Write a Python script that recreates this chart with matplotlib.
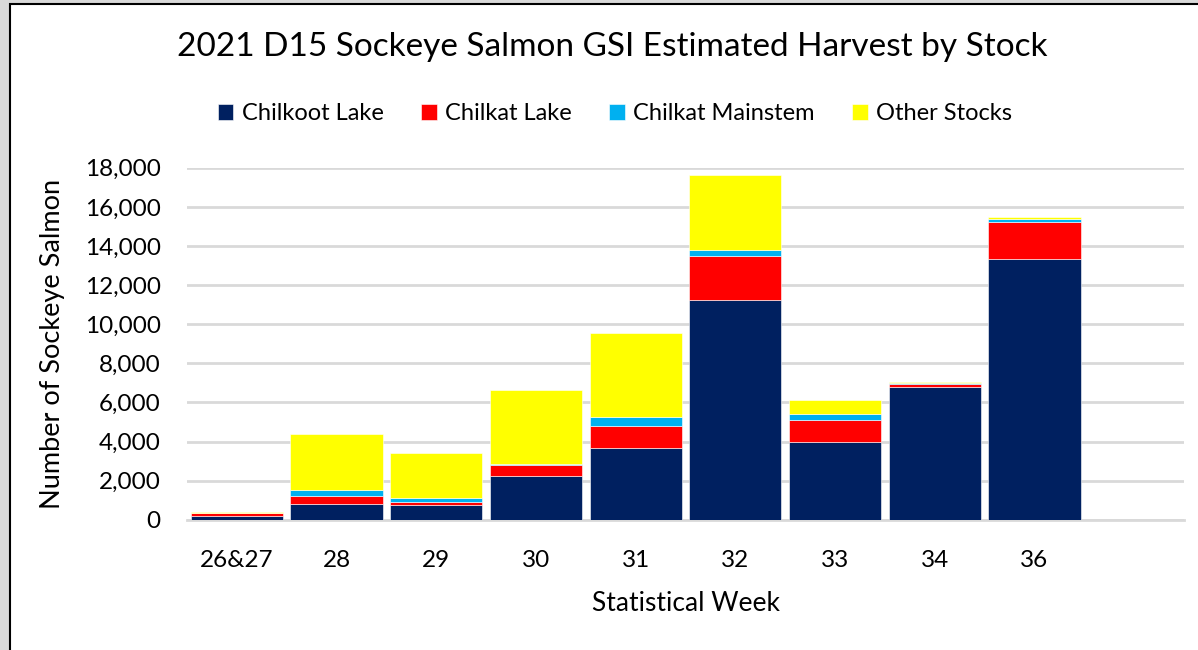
import numpy as np
import matplotlib.pyplot as plt
from matplotlib.patches import Rectangle

plt.rcParams['font.family'] = ['Lato', 'DejaVu Sans']

weeks = ['26&27', '28', '29', '30', '31', '32', '33', '34', '36', '']
chilkoot = [190, 800, 750, 2250, 3680, 11250, 3990, 6790, 13340, 0]
chilkat_lake = [150, 430, 170, 560, 1130, 2240, 1125, 170, 1890, 0]
chilkat_main = [10, 270, 175, 40, 430, 320, 285, 20, 140, 0]
other = [20, 2900, 2315, 3780, 4310, 3820, 710, 50, 110, 0]

series = [
    ('Chilkoot Lake', chilkoot, '#002060'),
    ('Chilkat Lake', chilkat_lake, '#FF0000'),
    ('Chilkat Mainstem', chilkat_main, '#00B0F0'),
    ('Other Stocks', other, '#FFFF00'),
]

fig = plt.figure(figsize=(11.98, 6.5), dpi=100)
# grey surround and bordered chart area
fig.add_artist(Rectangle((0, 0), 1, 1, transform=fig.transFigure,
                         facecolor='#d9d9d9', edgecolor='none', zorder=-10))
fig.add_artist(Rectangle((10 / 1198, -0.1), 1.1, 646 / 650 + 0.1,
                         transform=fig.transFigure, facecolor='white',
                         edgecolor='black', linewidth=1.5, zorder=-9))

ax = fig.add_axes([187 / 1198, 1 - 519.7 / 650, (1184 - 187) / 1198, (519.7 - 167.8) / 650])
ax.set_facecolor('none')

x = np.arange(len(weeks))
bottom = np.zeros(len(weeks))
for name, vals, col in series:
    ax.bar(x, vals, width=0.925, bottom=bottom, color=col, label=name,
           edgecolor='#ffffff', linewidth=0.4, zorder=3)
    bottom += np.array(vals)

ax.set_xlim(-0.5, len(weeks) - 0.5)
ax.set_ylim(0, 18000)
ax.set_yticks(np.arange(0, 18001, 2000))
ax.set_yticklabels([f'{v:,}' for v in range(0, 18001, 2000)], fontsize=17.5)
ax.set_xticks(x)
ax.set_xticklabels(weeks, fontsize=17.5)
ax.tick_params(axis='y', length=0, pad=19)
ax.tick_params(axis='x', length=0, pad=22)
ax.yaxis.grid(True, color='#d9d9d9', linewidth=2, zorder=0)
for s in ['top', 'right', 'left']:
    ax.spines[s].set_visible(False)
ax.spines['bottom'].set_color('#d9d9d9')
ax.spines['bottom'].set_linewidth(2)

ax.set_ylabel('Number of Sockeye Salmon', fontsize=19.5, labelpad=14)
ax.set_xlabel('Statistical Week', fontsize=19, labelpad=14)

fig.text(612 / 1198, 1 - 47 / 650, '2021 D15 Sockeye Salmon GSI Estimated Harvest by Stock',
         ha='center', va='center', fontsize=24)
ax.legend(loc='center', bbox_to_anchor=(615 / 1198, 1 - 114 / 650), bbox_transform=fig.transFigure,
          ncol=4, frameon=False, fontsize=17, handlelength=0.65, handleheight=0.65,
          handletextpad=0.35, columnspacing=1.6)

fig.savefig('out.png', dpi=100)
